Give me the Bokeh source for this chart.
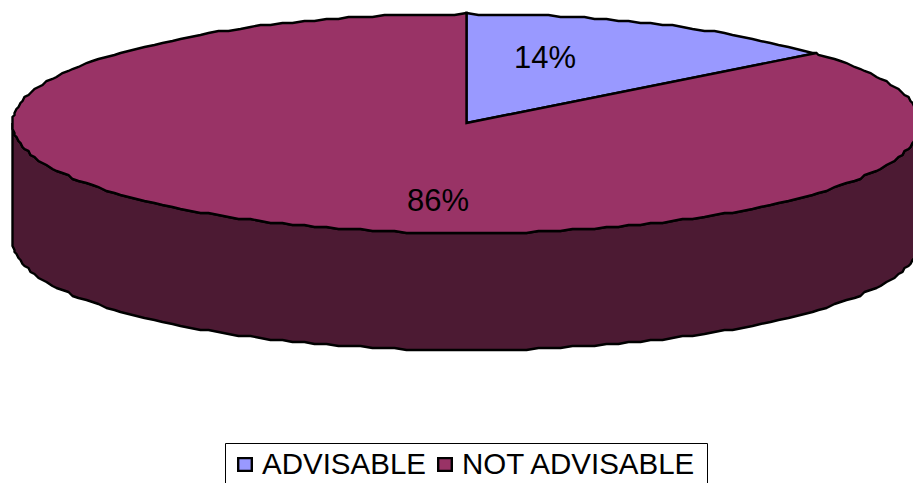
import numpy as np
from bokeh.embed import file_html
from bokeh.resources import INLINE
from bokeh.plotting import figure
from bokeh.models import Legend, LegendItem, Range1d, ColumnDataSource
from bokeh.core.properties import value

categories = ["ADVISABLE", "NOT ADVISABLE"]
shares = [14, 86]
slice_colors = ["#9999FF", "#993366"]
wall_color = "#4C1A33"
font = "Liberation Sans"

WIDTH, HEIGHT = 913, 483
cx, cy, rx, ry, depth = 466.0, 122.5, 454.0, 109.5, 117.0
OUTLINE = 2.4
STEP = np.radians(1.5)  # the rim is drawn as a faceted polyline on a 2px lattice

p = figure(width=WIDTH, height=HEIGHT, output_backend="svg", toolbar_location=None,
           x_range=Range1d(0, WIDTH), y_range=Range1d(HEIGHT, 0),
           min_border=0, outline_line_color=None, background_fill_color="white")
p.axis.visible = False
p.grid.visible = False


def rim(start, stop):
    """Faceted points on the top ellipse; angles run clockwise from twelve o'clock."""
    grid = np.arange(np.ceil(start / STEP), np.floor(stop / STEP) + 1) * STEP
    t = np.unique(np.r_[start, grid, stop])
    x = cx + rx * np.sin(t)
    y = cy - ry * np.cos(t)
    return np.round(x / 2) * 2, np.round(y / 2) * 2 + 0.5


# Side wall: front half of the rim, extruded downward
wx, wy = rim(np.pi / 2, 3 * np.pi / 2)
p.patch(np.r_[wx, wx[::-1]], np.r_[wy, wy[::-1] + depth],
        fill_color=wall_color, line_color="black", line_width=OUTLINE)

# Top face slices, taken from the shares
fractions = np.cumsum([0] + shares) / sum(shares)
renderers = []
for i, color in enumerate(slice_colors):
    sx, sy = rim(2 * np.pi * fractions[i], 2 * np.pi * fractions[i + 1])
    src = ColumnDataSource(dict(xs=[np.r_[cx, sx, cx]], ys=[np.r_[cy, sy, cy]]))
    renderers.append(p.patches("xs", "ys", source=src, fill_color=color,
                               line_color="black", line_width=OUTLINE, line_join="miter"))

# Percentage labels
label_x = [cx + 78.5, cx - 28.5]
label_y = [57, 200]
p.text(label_x, label_y, text=[f"{v}%" for v in shares], text_align="center",
       text_baseline="middle", text_color="black",
       text_font=value(font), text_font_size="31px")

# Legend frame, running off the bottom of the page
p.quad(left=[225], right=[707], top=[443], bottom=[500],
       fill_color="white", line_color="black", line_width=1)

# With no border the legend drops its padding, so the anchor is the first glyph's corner
legend = Legend(
    items=[LegendItem(label=c, renderers=[r]) for c, r in zip(categories, renderers)],
    orientation="horizontal", location=(236, 2),
    label_text_font=font, label_text_font_size="29.5px", label_text_color="black",
    label_standoff=9, spacing=10, glyph_width=17, glyph_height=16,
    margin=0, border_line_color=None,
    background_fill_alpha=0.0,
)
p.add_layout(legend, "center")

open("out.html", "w").write(file_html(p, INLINE))
